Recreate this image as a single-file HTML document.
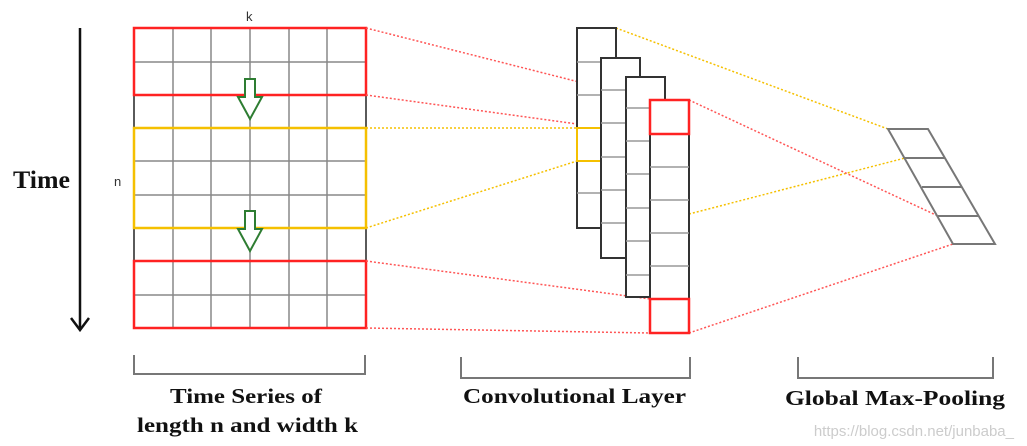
<!DOCTYPE html>
<html><head><meta charset="utf-8"><style>
html,body{margin:0;padding:0;background:#fff;}
svg{display:block;}
.t{font-family:"Liberation Serif",serif;font-weight:bold;fill:#111;}
</style></head><body>
<svg width="1027" height="446" viewBox="0 0 1027 446" xmlns="http://www.w3.org/2000/svg">
<line x1="80" y1="28" x2="80" y2="328" stroke="#111" stroke-width="2.5"/>
<polyline points="71,318 80,330 89,318" fill="none" stroke="#111" stroke-width="2.5"/>
<text x="13" y="188" class="t" font-size="25" textLength="57" lengthAdjust="spacingAndGlyphs">Time</text>
<text x="114" y="186" font-family="Liberation Sans,sans-serif" font-size="13" fill="#333">n</text>
<text x="246" y="21" font-family="Liberation Sans,sans-serif" font-size="13" fill="#333">k</text>
<g stroke="#888" stroke-width="1.5">
<line x1="173" y1="28" x2="173" y2="328"/><line x1="211" y1="28" x2="211" y2="328"/>
<line x1="250" y1="28" x2="250" y2="328"/><line x1="289" y1="28" x2="289" y2="328"/>
<line x1="327" y1="28" x2="327" y2="328"/>
<line x1="134" y1="62" x2="366" y2="62"/><line x1="134" y1="161" x2="366" y2="161"/>
<line x1="134" y1="195" x2="366" y2="195"/><line x1="134" y1="295" x2="366" y2="295"/>
</g>
<g stroke="#222" stroke-width="1.5">
<line x1="134" y1="95" x2="134" y2="128"/><line x1="366" y1="95" x2="366" y2="128"/>
<line x1="134" y1="228" x2="134" y2="261"/><line x1="366" y1="228" x2="366" y2="261"/>
</g>
<rect x="134" y="28" width="232" height="67" fill="none" stroke="#f22" stroke-width="2.5"/>
<rect x="134" y="128" width="232" height="100" fill="none" stroke="#f5c000" stroke-width="2.5"/>
<rect x="134" y="261" width="232" height="67" fill="none" stroke="#f22" stroke-width="2.5"/>
<g fill="#fff" stroke="#2e7d32" stroke-width="2">
<polygon points="245,79 255,79 255,97 262,97 250,119 238,97 245,97"/>
<polygon points="245,211 255,211 255,229 262,229 250,251 238,229 245,229"/>
</g>
<g fill="none" stroke-width="1.5" stroke-dasharray="2,2">
<line x1="366" y1="28" x2="650" y2="100" stroke="#f55"/>
<line x1="366" y1="95" x2="650" y2="134" stroke="#f55"/>
<line x1="366" y1="261" x2="650" y2="299" stroke="#f55"/>
<line x1="366" y1="328" x2="650" y2="333" stroke="#f55"/>
<line x1="366" y1="128" x2="577" y2="128" stroke="#f5c000"/>
<line x1="366" y1="228" x2="577" y2="161" stroke="#f5c000"/>
<line x1="616" y1="28" x2="888" y2="129" stroke="#f5c000"/>
<line x1="689" y1="214" x2="905" y2="158" stroke="#f5c000"/>
<line x1="689" y1="100" x2="938" y2="216" stroke="#f55"/>
<line x1="689" y1="333" x2="953" y2="244" stroke="#f55"/>
</g>
<rect x="577" y="28" width="39" height="200" fill="#fff" stroke="#333" stroke-width="2"/>
<g stroke="#999" stroke-width="1.5"><line x1="577" y1="62" x2="601" y2="62"/><line x1="577" y1="95" x2="601" y2="95"/><line x1="577" y1="193" x2="601" y2="193"/></g>
<polyline points="601,128 577,128 577,161 601,161" fill="none" stroke="#f5c000" stroke-width="2"/>
<rect x="601" y="58" width="39" height="200" fill="#fff" stroke="#333" stroke-width="2"/>
<g stroke="#999" stroke-width="1.5"><line x1="601" y1="90" x2="626" y2="90"/><line x1="601" y1="123" x2="626" y2="123"/><line x1="601" y1="157" x2="626" y2="157"/><line x1="601" y1="190" x2="626" y2="190"/><line x1="601" y1="223" x2="626" y2="223"/></g>
<rect x="626" y="77" width="39" height="220" fill="#fff" stroke="#333" stroke-width="2"/>
<g stroke="#999" stroke-width="1.5"><line x1="626" y1="108" x2="650" y2="108"/><line x1="626" y1="141" x2="650" y2="141"/><line x1="626" y1="174" x2="650" y2="174"/><line x1="626" y1="208" x2="650" y2="208"/><line x1="626" y1="241" x2="650" y2="241"/><line x1="626" y1="275" x2="650" y2="275"/></g>
<rect x="650" y="100" width="39" height="233" fill="#fff" stroke="#333" stroke-width="2"/>
<g stroke="#999" stroke-width="1.5"><line x1="650" y1="167" x2="689" y2="167"/><line x1="650" y1="200" x2="689" y2="200"/><line x1="650" y1="233" x2="689" y2="233"/><line x1="650" y1="266" x2="689" y2="266"/></g>
<rect x="650" y="100" width="39" height="34" fill="none" stroke="#f22" stroke-width="2.5"/>
<rect x="650" y="299" width="39" height="34" fill="none" stroke="#f22" stroke-width="2.5"/>
<g fill="none" stroke="#777" stroke-width="2">
<polygon points="888,129 928,129 995,244 953,244"/>
<line x1="905" y1="158" x2="945" y2="158"/>
<line x1="922" y1="187" x2="962" y2="187"/>
<line x1="938" y1="216" x2="978" y2="216"/>
</g>
<g fill="none" stroke="#777" stroke-width="2">
<polyline points="134,355 134,374 365,374 365,355"/>
<polyline points="461,357 461,378 690,378 690,357"/>
<polyline points="798,357 798,378 993,378 993,357"/>
</g>
<text x="170" y="403" class="t" font-size="21" textLength="152" lengthAdjust="spacingAndGlyphs">Time Series of</text>
<text x="137" y="432" class="t" font-size="21" textLength="221" lengthAdjust="spacingAndGlyphs">length n and width k</text>
<text x="463" y="403" class="t" font-size="21" textLength="223" lengthAdjust="spacingAndGlyphs">Convolutional Layer</text>
<text x="785" y="405" class="t" font-size="21" textLength="220" lengthAdjust="spacingAndGlyphs">Global Max-Pooling</text>
<text x="1014" y="436" font-family="Liberation Sans,sans-serif" font-size="15" fill="#ccc" text-anchor="end">https://blog.csdn.net/junbaba_</text>
</svg>
</body></html>
